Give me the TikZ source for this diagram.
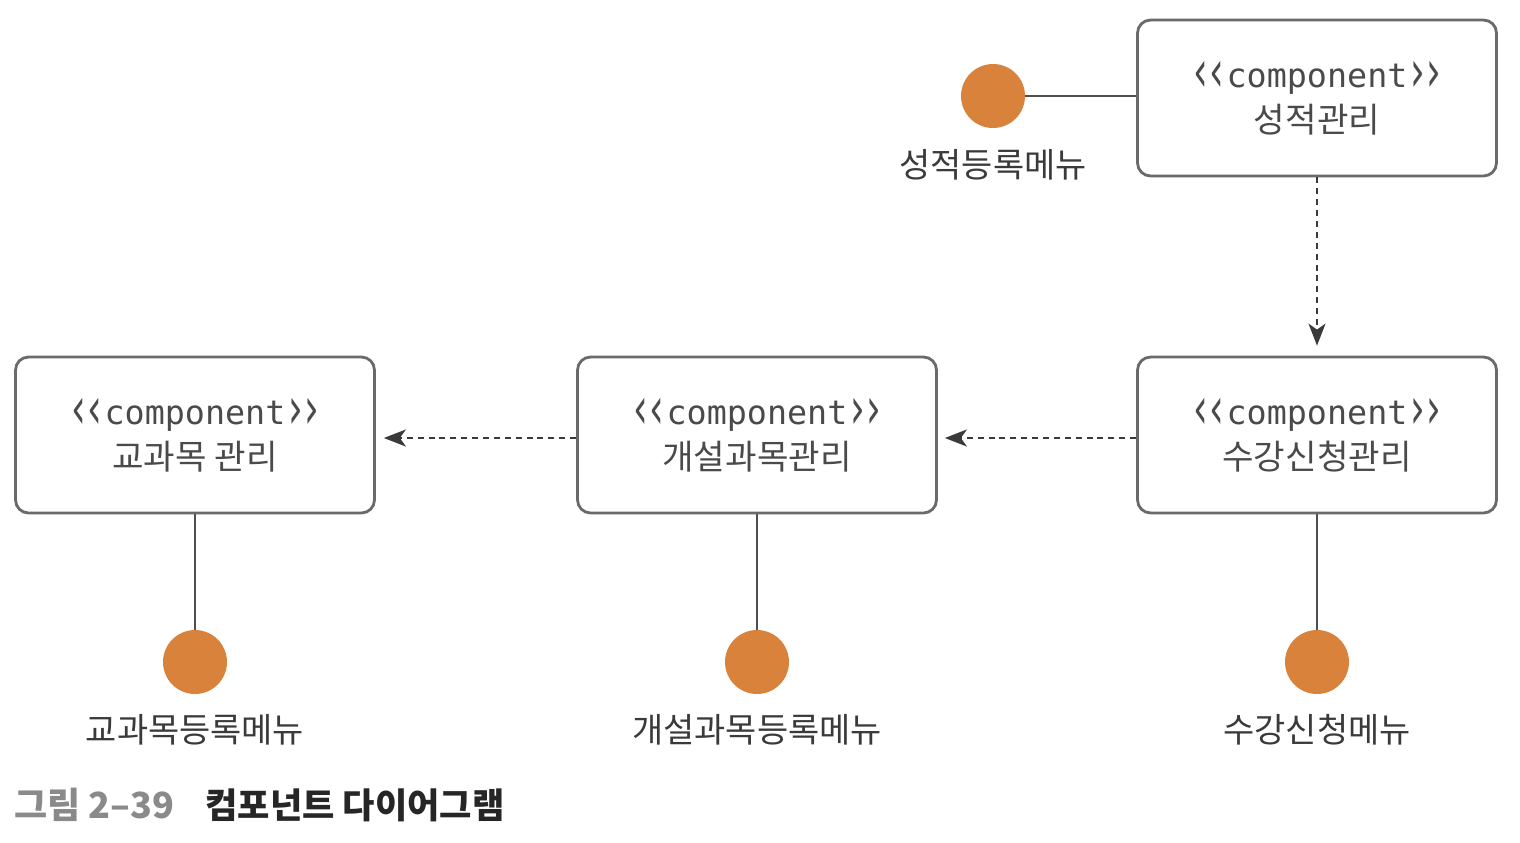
\documentclass[tikz,border=0pt]{standalone}
\usepackage{fontspec}
\usepackage{graphicx}
\setmainfont{Noto Sans CJK KR}
\newfontfamily\monof{DejaVu Sans Mono}
\newfontfamily\dvs{DejaVu Sans}
\usetikzlibrary{arrows.meta}
\definecolor{boxline}{HTML}{6A6A6A}
\definecolor{txt}{HTML}{4A4A4A}
\definecolor{lbl}{HTML}{3A3A3A}
\definecolor{dot}{HTML}{D8823C}
\definecolor{capgray}{HTML}{8A8A8A}
\tikzset{
  comp/.style={draw=boxline, line width=1.6pt, rounded corners=0.26cm, minimum width=7.18cm, minimum height=3.12cm, align=center, text=txt, font=\fontsize{19.5}{25.5}\selectfont, inner sep=0pt},
  iface/.style={circle, fill=dot, minimum size=1.28cm, inner sep=0pt},
  ilabel/.style={text=lbl, font=\fontsize{19.3}{22}\selectfont, inner sep=0pt},
  conn/.style={draw=lbl!90, line width=1.1pt},
  dep/.style={draw=lbl, line width=1.1pt, dash pattern=on 3.4pt off 2.8pt, -{Stealth[length=0.44cm,width=0.34cm,inset=0.12cm]}},
}
\newcommand{\chevl}{\raisebox{-0.12em}{\scalebox{1.1}[1.75]{\dvs‹}}}
\newcommand{\chevr}{\raisebox{-0.12em}{\scalebox{1.1}[1.75]{\dvs›}}}
\newcommand{\stereo}{{\monof\fontsize{19}{25.5}\selectfont\chevl\kern0.04em\chevl\kern0.08em component\kern0.08em\chevr\kern0.04em\chevr}}
\begin{document}
\begin{tikzpicture}[x=0.02cm,y=-0.02cm]
\useasboundingbox (0,0) rectangle (1520,842);
\node[comp] (sj) at (1317,98) {\stereo\\성적관리};
\node[comp] (sg) at (1317,435) {\stereo\\수강신청관리};
\node[comp] (gs) at (757,435) {\stereo\\개설과목관리};
\node[comp] (gg) at (195,435) {\stereo\\교과목 관리};

\node[iface] (isj) at (993,96) {};
\node[iface] (isg) at (1317,662) {};
\node[iface] (igs) at (757,662) {};
\node[iface] (igg) at (195,662) {};

\node[ilabel] (lsj) at (993,165) {성적등록메뉴};
\node[ilabel] (lsg) at (1317,730) {수강신청메뉴};
\node[ilabel] (lgs) at (757,730) {개설과목등록메뉴};
\node[ilabel] (lgg) at (195,730) {교과목등록메뉴};

\draw[conn] (isj) -- (isj -| sj.west);
\draw[conn] (sg.south) -- (isg);
\draw[conn] (gs.south) -- (igs);
\draw[conn] (gg.south) -- (igg);

\draw[dep] (sj.south) -- ([yshift=0.2cm]sg.north);
\draw[dep] ([yshift=-0.06cm]sg.west) -- ([yshift=-0.06cm,xshift=0.14cm]gs.east);
\draw[dep] ([yshift=-0.06cm]gs.west) -- ([yshift=-0.06cm,xshift=0.16cm]gg.east);

\node[anchor=west, inner sep=0pt, text=capgray, font=\bfseries\fontsize{20.5}{22}\selectfont] (capa) at (14,805) {그림 2–39};
\node[anchor=west, inner sep=0pt, text=black!85, font=\bfseries\fontsize{20}{22}\selectfont] (capb) at (205,805) {컴포넌트 다이어그램};
\end{tikzpicture}
\end{document}
